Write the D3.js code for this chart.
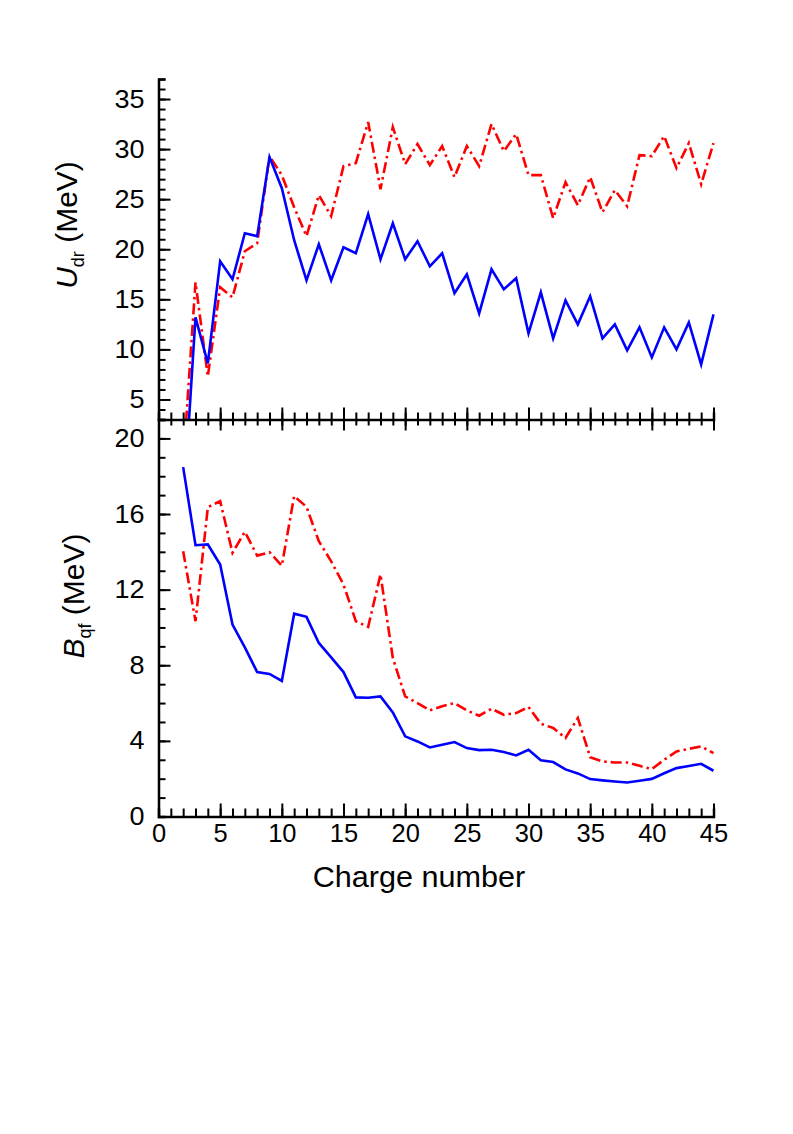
<!DOCTYPE html>
<html>
<head>
<meta charset="utf-8">
<script src="https://cdn.jsdelivr.net/npm/d3@7"></script>
<style>
  html, body { margin: 0; padding: 0; background: #fff; }
  svg { display: block; }
  text { font-family: "Liberation Sans", Arial, Helvetica, sans-serif; fill: #000; }
</style>
</head>
<body>
<svg id="chart" width="793" height="1134"></svg>
<script>
// ---- data ----
const charge = d3.range(2, 46); // charge numbers 2..45
const uSolid = [-6.2, 13.2, 8.6, 18.8, 17.0, 21.6, 21.3, 29.2, 26.1, 20.9, 16.9, 20.5, 16.9, 20.2, 19.6, 23.5, 19.0, 22.6, 19.0, 20.8, 18.3, 19.6, 15.6, 17.5, 13.6, 18.0, 16.0, 17.1, 11.6, 15.7, 11.1, 14.9, 12.5, 15.3, 11.1, 12.5, 9.9, 12.2, 9.2, 12.2, 10.0, 12.7, 8.5, 13.5];
const uDash  = [-1.5, 16.7, 7.3, 16.2, 15.2, 19.8, 20.6, 29.3, 27.4, 24.2, 21.3, 25.4, 23.3, 28.3, 28.6, 32.7, 26.0, 32.2, 28.5, 30.5, 28.4, 30.3, 27.2, 30.3, 28.3, 32.5, 29.8, 31.5, 27.4, 27.4, 23.1, 26.7, 24.4, 27.2, 23.7, 25.9, 24.3, 29.4, 29.3, 31.3, 28.1, 30.6, 26.5, 30.6];
const bSolid = [18.48, 14.35, 14.39, 13.33, 10.15, 8.95, 7.64, 7.54, 7.17, 10.73, 10.56, 9.18, 8.42, 7.64, 6.30, 6.28, 6.35, 5.51, 4.24, 3.97, 3.65, 3.80, 3.94, 3.62, 3.51, 3.53, 3.41, 3.23, 3.53, 2.98, 2.88, 2.49, 2.28, 1.98, 1.91, 1.85, 1.80, 1.89, 1.99, 2.29, 2.56, 2.67, 2.79, 2.42];
const bDash  = [14.03, 10.33, 16.36, 16.68, 13.95, 15.06, 13.80, 13.98, 13.27, 16.95, 16.38, 14.56, 13.50, 12.27, 10.33, 10.03, 12.80, 8.38, 6.35, 6.00, 5.61, 5.83, 6.00, 5.61, 5.33, 5.70, 5.38, 5.47, 5.79, 4.91, 4.68, 4.15, 5.21, 3.14, 2.91, 2.86, 2.86, 2.68, 2.51, 3.00, 3.44, 3.58, 3.71, 3.35];

const xTicks = [0, 5, 10, 15, 20, 25, 30, 35, 40, 45];
const xMinor = d3.range(0, 46);
const uTicks = [5, 10, 15, 20, 25, 30, 35];
const uMinor = d3.range(3, 38);
const bTicks = [0, 4, 8, 12, 16, 20];
const bMinor = d3.range(0, 22);

// ---- layout ----
const svg = d3.select("#chart");
const left = 158.5, right = 713.5;
const topY0 = 79, topY1 = 419.5;
const botY0 = 419.5, botY1 = 816.5;

const x = d3.scaleLinear().domain([0, 45]).range([left, right]);
const yU = d3.scaleLinear().domain([3, 37]).range([topY1, topY0]);
const yB = d3.scaleLinear().domain([0, 21]).range([botY1, botY0]);

const MAJ = 12, MIN = 7;
const tickFont = 25;

function styleAxis(g, keepDomain) {
  g.selectAll(".tick line").attr("stroke", "#000").attr("stroke-width", 2);
  g.select(".domain").attr("stroke", keepDomain ? "#000" : "none").attr("stroke-width", 2.5);
  g.selectAll("text").style("font-size", tickFont + "px").attr("font-family", "Liberation Sans, Arial, sans-serif").attr("fill", "#000");
}
function stretch(sel, f) {
  sel.each(function () {
    const w = this.getComputedTextLength();
    d3.select(this).attr("textLength", w * f).attr("lengthAdjust", "spacingAndGlyphs");
  });
}

// clip paths
const defs = svg.append("defs");
defs.append("clipPath").attr("id", "clipTop").append("rect")
  .attr("x", left).attr("y", topY0 - 5).attr("width", right - left + 5).attr("height", topY1 - topY0 + 5);
defs.append("clipPath").attr("id", "clipBot").append("rect")
  .attr("x", left).attr("y", botY0).attr("width", right - left + 5).attr("height", botY1 - botY0);

// ---- lines ----
const lineU = d3.line().x((d, i) => x(charge[i])).y(d => yU(d));
const lineB = d3.line().x((d, i) => x(charge[i])).y(d => yB(d));

const gTop = svg.append("g").attr("clip-path", "url(#clipTop)");
gTop.append("path").datum(uDash).attr("d", lineU).attr("fill", "none")
  .attr("stroke", "#ff0000").attr("stroke-width", 2.6).attr("stroke-dasharray", "11,4,2.5,4").attr("stroke-linejoin", "miter");
gTop.append("path").datum(uSolid).attr("d", lineU).attr("fill", "none")
  .attr("stroke", "#0000ff").attr("stroke-width", 2.6).attr("stroke-linejoin", "miter");

const gBot = svg.append("g").attr("clip-path", "url(#clipBot)");
gBot.append("path").datum(bDash).attr("d", lineB).attr("fill", "none")
  .attr("stroke", "#ff0000").attr("stroke-width", 2.6).attr("stroke-dasharray", "11,4,2.5,4").attr("stroke-linejoin", "miter");
gBot.append("path").datum(bSolid).attr("d", lineB).attr("fill", "none")
  .attr("stroke", "#0000ff").attr("stroke-width", 2.6).attr("stroke-linejoin", "miter");

// ---- axes: top panel ----
svg.append("g").attr("transform", `translate(${left},0)`)
  .call(d3.axisRight(yU).tickValues(uMinor).tickSize(MIN).tickFormat(""))
  .call(g => styleAxis(g, true));
svg.append("g").attr("transform", `translate(${left},0)`)
  .call(d3.axisRight(yU).tickValues(uTicks).tickSize(MAJ).tickFormat(""))
  .call(g => styleAxis(g, false));
svg.append("g").attr("transform", `translate(${left},0)`)
  .call(d3.axisLeft(yU).tickValues(uTicks).tickSize(0).tickPadding(14).tickFormat(d3.format("d")))
  .call(g => styleAxis(g, false))
  .call(g => stretch(g.selectAll("text"), 1.08));

// shared middle axis: ticks up into top panel
svg.append("g").attr("transform", `translate(0,${topY1})`)
  .call(d3.axisTop(x).tickValues(xMinor).tickSize(MIN).tickFormat(""))
  .call(g => styleAxis(g, true));
svg.append("g").attr("transform", `translate(0,${topY1})`)
  .call(d3.axisTop(x).tickValues(xTicks).tickSize(MAJ).tickFormat(""))
  .call(g => styleAxis(g, false));
// ticks down into bottom panel
svg.append("g").attr("transform", `translate(0,${botY0})`)
  .call(d3.axisBottom(x).tickValues(xMinor).tickSize(MIN - 1).tickFormat(""))
  .call(g => styleAxis(g, false));
svg.append("g").attr("transform", `translate(0,${botY0})`)
  .call(d3.axisBottom(x).tickValues(xTicks).tickSize(MAJ - 1).tickFormat(""))
  .call(g => styleAxis(g, false));

// ---- axes: bottom panel ----
svg.append("g").attr("transform", `translate(${left},0)`)
  .call(d3.axisRight(yB).tickValues(bMinor).tickSize(MIN).tickFormat(""))
  .call(g => styleAxis(g, true));
svg.append("g").attr("transform", `translate(${left},0)`)
  .call(d3.axisRight(yB).tickValues(bTicks).tickSize(MAJ).tickFormat(""))
  .call(g => styleAxis(g, false));
svg.append("g").attr("transform", `translate(${left},0)`)
  .call(d3.axisLeft(yB).tickValues(bTicks).tickSize(0).tickPadding(14).tickFormat(d3.format("d")))
  .call(g => styleAxis(g, false))
  .call(g => stretch(g.selectAll("text"), 1.08));

svg.append("g").attr("transform", `translate(0,${botY1})`)
  .call(d3.axisTop(x).tickValues(xMinor).tickSize(MIN + 1).tickFormat(""))
  .call(g => styleAxis(g, true));
svg.append("g").attr("transform", `translate(0,${botY1})`)
  .call(d3.axisTop(x).tickValues(xTicks).tickSize(MAJ + 1).tickFormat(""))
  .call(g => styleAxis(g, false));
svg.append("g").attr("transform", `translate(0,${botY1})`)
  .call(d3.axisBottom(x).tickValues(xTicks).tickSize(0).tickPadding(8).tickFormat(d3.format("d")))
  .call(g => styleAxis(g, false))
  .call(g => stretch(g.selectAll("text"), 1.02));

// ---- axis titles ----
svg.append("text")
  .attr("x", 419).attr("y", 887)
  .attr("text-anchor", "middle")
  .style("font-size", "30px")
  .text("Charge number")
  .call(s => stretch(s, 1.02));

const tU = svg.append("text")
  .attr("transform", "translate(77,225) rotate(-90)")
  .attr("text-anchor", "middle")
  .style("font-size", "30px");
tU.append("tspan").attr("font-style", "italic").text("U");
tU.append("tspan").attr("dy", 7).style("font-size", "18px").text("dr");
tU.append("tspan").attr("dy", -7).text(" (MeV)");

const tB = svg.append("text")
  .attr("transform", "translate(84,596) rotate(-90)")
  .attr("text-anchor", "middle")
  .style("font-size", "30px");
tB.append("tspan").attr("font-style", "italic").text("B");
tB.append("tspan").attr("dy", 7).style("font-size", "18px").text("qf");
tB.append("tspan").attr("dy", -7).text(" (MeV)");
</script>
</body>
</html>
